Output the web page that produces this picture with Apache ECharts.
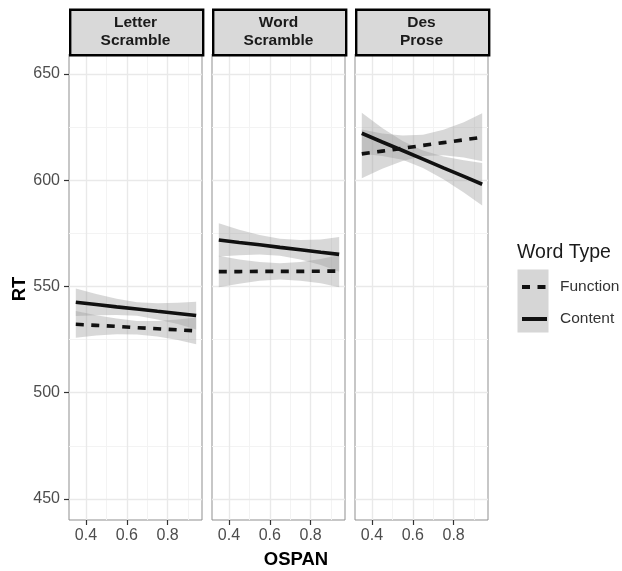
<!DOCTYPE html>
<html>
<head>
<meta charset="utf-8">
<script src="https://cdn.jsdelivr.net/npm/echarts@6/dist/echarts.min.js"></script>
<style>
  html, body { margin: 0; padding: 0; background: #fff; }
  #chart { width: 622px; height: 571px; }
</style>
</head>
<body>
<div id="chart"></div>
<script>
const ospan = [0.35, 0.45, 0.55, 0.65, 0.75, 0.85, 0.94]
const panelNames = ['Letter\nScramble', 'Word\nScramble', 'Des\nProse']
const yTicks = [450, 500, 550, 600, 650]
const yMinor = [475, 525, 575, 625]
const xTicks = [0.4, 0.6, 0.8]
const xMinor = [0.5, 0.7, 0.9]

// Letter Scramble
const letterContentFit = [542.6, 541.5, 540.4, 539.4, 538.3, 537.3, 536.3]
const letterContentHi = [549.1, 546.5, 544.2, 542.6, 542.1, 542.3, 542.8]
const letterContentLo = [536.1, 536.5, 536.6, 536.2, 534.5, 532.3, 529.8]
const letterFunctionFit = [532.2, 531.7, 531.2, 530.6, 530.1, 529.6, 529.1]
const letterFunctionHi = [538.5, 536.5, 534.9, 533.8, 533.8, 534.4, 535.4]
const letterFunctionLo = [525.9, 526.9, 527.5, 527.4, 526.4, 524.8, 522.8]

// Word Scramble
const wordContentFit = [571.9, 570.7, 569.6, 568.4, 567.3, 566.1, 565.1]
const wordContentHi = [579.7, 576.7, 574.2, 572.4, 571.9, 572.1, 573.3]
const wordContentLo = [564.1, 564.7, 565.0, 564.4, 562.7, 560.1, 556.9]
const wordFunctionFit = [557.0, 557.0, 557.1, 557.1, 557.1, 557.2, 557.2]
const wordFunctionHi = [564.4, 562.7, 561.5, 560.9, 561.5, 562.9, 564.8]
const wordFunctionLo = [549.6, 551.3, 552.7, 553.3, 552.7, 551.5, 549.6]

// Des Prose
const proseContentFit = [622.1, 618.0, 614.0, 609.9, 605.8, 601.8, 598.1]
const proseContentHi = [631.7, 624.6, 618.4, 614.0, 611.2, 609.4, 608.1]
const proseContentLo = [612.5, 611.4, 609.6, 605.8, 600.4, 594.2, 588.1]
const proseFunctionFit = [612.4, 613.7, 615.0, 616.4, 617.7, 619.0, 620.2]
const proseFunctionHi = [623.9, 622.0, 621.0, 621.4, 623.7, 627.3, 631.5]
const proseFunctionLo = [600.9, 605.4, 609.0, 611.4, 611.7, 610.7, 608.9]

const panels = [
  { content: [letterContentFit, letterContentLo, letterContentHi], func: [letterFunctionFit, letterFunctionLo, letterFunctionHi] },
  { content: [wordContentFit, wordContentLo, wordContentHi], func: [wordFunctionFit, wordFunctionLo, wordFunctionHi] },
  { content: [proseContentFit, proseContentLo, proseContentHi], func: [proseFunctionFit, proseFunctionLo, proseFunctionHi] }
]

const panelLeft = [69, 212, 355]
const panelWidth = 133
const panelTop = 54
const panelHeight = 466
const font = 'Liberation Sans, Arial, Helvetica, sans-serif'

const pairs = (ys) => ospan.map((x, i) => [x, ys[i]])

const grids = []
const xAxes = []
const yAxes = []
const series = []
const graphics = []

panelLeft.forEach((left, p) => {
  grids.push({
    left: left, top: panelTop, width: panelWidth, height: panelHeight,
    show: true, borderColor: '#8f8f8f', borderWidth: 1, backgroundColor: 'transparent'
  })
  xAxes.push({
    type: 'value', gridIndex: p, min: 0.3167, max: 0.9686,
    axisLine: { show: false },
    splitLine: { show: false },
    axisTick: { show: true, length: 5, customValues: xTicks, lineStyle: { color: '#333', width: 1.2 } },
    axisLabel: { show: true, customValues: xTicks, margin: 8, color: '#4d4d4d', fontSize: 16, fontFamily: font,
      formatter: (v) => v.toFixed(1) }
  })
  yAxes.push({
    type: 'value', gridIndex: p, min: 440.1, max: 659.4,
    axisLine: { show: false },
    splitLine: { show: false },
    axisTick: { show: p === 0, length: 5, customValues: yTicks, lineStyle: { color: '#333', width: 1.2 } },
    axisLabel: { show: p === 0, customValues: yTicks, margin: 9, color: '#4d4d4d', fontSize: 16, fontFamily: font }
  })

  // background grid lines
  const gridMarks = []
  yMinor.forEach(v => gridMarks.push({ yAxis: v, lineStyle: { color: '#f3f3f3', width: 1, type: 'solid' } }))
  xMinor.forEach(v => gridMarks.push({ xAxis: v, lineStyle: { color: '#f3f3f3', width: 1, type: 'solid' } }))
  yTicks.forEach(v => gridMarks.push({ yAxis: v, lineStyle: { color: '#e9e9e9', width: 1.4, type: 'solid' } }))
  xTicks.forEach(v => gridMarks.push({ xAxis: v, lineStyle: { color: '#e9e9e9', width: 1.4, type: 'solid' } }))
  series.push({
    name: 'grid' + p, type: 'line', xAxisIndex: p, yAxisIndex: p, data: [], silent: true, z: 1,
    markLine: { silent: true, symbol: ['none', 'none'], label: { show: false }, z: 1, animation: false, data: gridMarks }
  })

  // confidence ribbons, one polygon per word type
  const ribbons = [['c', panels[p].content], ['f', panels[p].func]]
  ribbons.forEach(([key, arr]) => {
    const lo = arr[1], hi = arr[2]
    series.push({
      name: 'band' + key + p, type: 'custom', xAxisIndex: p, yAxisIndex: p, silent: true, z: 2,
      data: ospan.map((x, i) => [x, lo[i], hi[i]]),
      encode: { x: 0, y: [1, 2] },
      renderItem: (params, api) => {
        if (params.dataIndex !== 0) return null
        const top = ospan.map((x, i) => api.coord([x, hi[i]]))
        const bottom = ospan.map((x, i) => api.coord([x, lo[i]])).reverse()
        return {
          type: 'polygon',
          shape: { points: top.concat(bottom) },
          style: { fill: 'rgba(153,153,153,0.38)' }
        }
      }
    })
  })

  series.push({
    name: 'Function', type: 'line', xAxisIndex: p, yAxisIndex: p, data: pairs(panels[p].func[0]),
    symbol: 'none', lineStyle: { color: '#111', width: 3.6, type: [8, 7.5] }, itemStyle: { color: '#111' }, z: 3
  })
  series.push({
    name: 'Content', type: 'line', xAxisIndex: p, yAxisIndex: p, data: pairs(panels[p].content[0]),
    symbol: 'none', lineStyle: { color: '#111', width: 3.6 }, itemStyle: { color: '#111' }, z: 3
  })

  // facet strip
  graphics.push({
    type: 'rect', left: left, top: 8.5, z: 10,
    shape: { width: panelWidth, height: panelTop - 8.5 },
    style: { fill: '#d9d9d9', stroke: '#000', lineWidth: 2.4 }
  })
  graphics.push({
    type: 'text', x: left + panelWidth / 2, y: 31.5, z: 11,
    style: { text: panelNames[p], fill: '#1a1a1a', font: 'bold 15.5px ' + font, align: 'center', verticalAlign: 'middle', lineHeight: 17.7 }
  })
})

// axis titles
graphics.push({
  type: 'text', x: 296, y: 560, z: 11,
  style: { text: 'OSPAN', fill: '#000', font: 'bold 18.5px ' + font, align: 'center', verticalAlign: 'middle' }
})
graphics.push({
  type: 'text', x: 20, y: 289, rotation: Math.PI / 2, z: 11,
  style: { text: 'RT', fill: '#000', font: 'bold 18.5px ' + font, align: 'center', verticalAlign: 'middle' }
})
// legend title and key background
graphics.push({
  type: 'text', x: 517, y: 253, z: 11,
  style: { text: 'Word Type', fill: '#1a1a1a', font: '19.5px ' + font, align: 'left', verticalAlign: 'middle' }
})
graphics.push({
  type: 'rect', left: 517.5, top: 269.5, z: 0,
  shape: { width: 31, height: 63 },
  style: { fill: '#d6d6d6' }
})

const chart = echarts.init(document.getElementById('chart'), null, { renderer: 'canvas' })
chart.setOption({
  animation: false,
  backgroundColor: '#fff',
  grid: grids,
  xAxis: xAxes,
  yAxis: yAxes,
  legend: {
    data: ['Function', 'Content'],
    orient: 'vertical', left: 520, top: 279,
    itemWidth: 25, itemHeight: 14, itemGap: 16,
    selectedMode: false,
    textStyle: { color: '#333', fontSize: 15.5, fontFamily: font, padding: [0, 0, 0, 8] },
    lineStyle: { width: 4 },
    itemStyle: { opacity: 0 },
    padding: 0
  },
  graphic: graphics,
  series: series
})
</script>
</body>
</html>
